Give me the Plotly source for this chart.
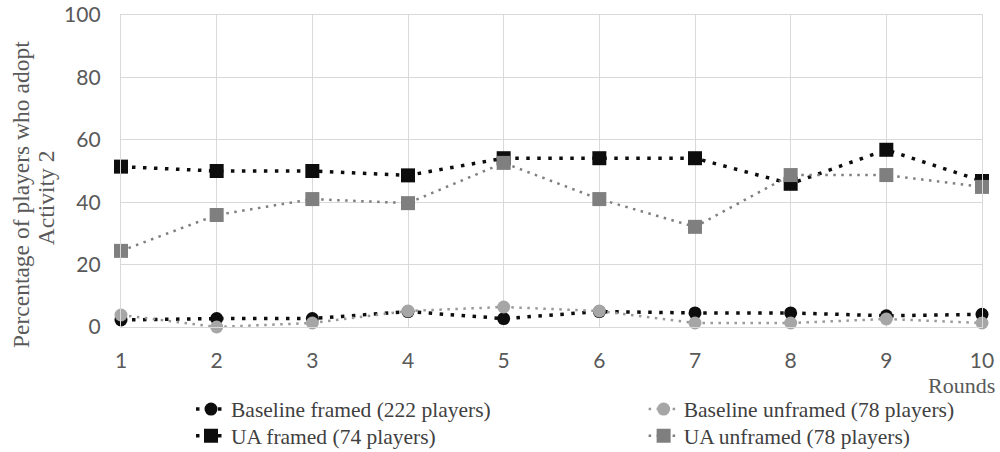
import plotly.graph_objects as go

rounds = [1, 2, 3, 4, 5, 6, 7, 8, 9, 10]
baseline_framed = [2.25, 2.7, 2.7, 4.95, 2.7, 4.95, 4.5, 4.5, 3.6, 4.05]
baseline_unframed = [3.85, 0.0, 1.28, 5.13, 6.41, 5.13, 1.28, 1.28, 2.56, 1.28]
ua_framed = [51.4, 50.0, 50.0, 48.6, 54.1, 54.1, 54.1, 45.9, 56.8, 46.8]
ua_unframed = [24.4, 35.9, 41.0, 39.7, 52.6, 41.0, 32.1, 48.7, 48.7, 44.9]

names = ["Baseline framed (222 players)", "Baseline unframed (78 players)",
         "UA framed (74 players)", "UA unframed (78 players)"]
y_ticks = [0, 20, 40, 60, 80, 100]

BLACK = "#0d0d0d"
DGRAY = "#7f7f7f"
LGRAY = "#a6a6a6"
SERIF = "Liberation Serif"

fig = go.Figure()
fig.add_trace(go.Scatter(x=rounds, y=baseline_framed, name=names[0], mode="lines+markers",
                         legend="legend",
                         line=dict(color=BLACK, width=3.5, dash="3.5px,7.5px"),
                         marker=dict(symbol="circle", size=13, color=BLACK), cliponaxis=False))
fig.add_trace(go.Scatter(x=rounds, y=baseline_unframed, name=names[1], mode="lines+markers",
                         legend="legend2",
                         line=dict(color="#999999", width=2.5, dash="2.5px,5.5px"),
                         marker=dict(symbol="circle", size=13, color=LGRAY), cliponaxis=False))
fig.add_trace(go.Scatter(x=rounds, y=ua_framed, name=names[2], mode="lines+markers",
                         legend="legend3",
                         line=dict(color=BLACK, width=3.5, dash="3.5px,7.5px"),
                         marker=dict(symbol="square", size=14, color=BLACK), cliponaxis=False))
fig.add_trace(go.Scatter(x=rounds, y=ua_unframed, name=names[3], mode="lines+markers",
                         legend="legend4",
                         line=dict(color=DGRAY, width=2.5, dash="2.5px,5.5px"),
                         marker=dict(symbol="square", size=14, color=DGRAY), cliponaxis=False))


def leg(x, y):
    return dict(orientation="v", x=x, y=y, xanchor="left", yanchor="middle",
                font=dict(family=SERIF, size=21.5, color="#404040"),
                bgcolor="rgba(0,0,0,0)", tracegroupgap=0)


fig.update_layout(
    width=1000, height=452,
    margin=dict(l=121, r=18, t=15, b=125, autoexpand=False),
    font=dict(family=SERIF, color="#404040"),
    plot_bgcolor="white", paper_bgcolor="white",
    showlegend=True,
    legend=leg(0.0813, -0.263),
    legend2=leg(0.607, -0.263),
    legend3=leg(0.0813, -0.349),
    legend4=leg(0.607, -0.349),
    annotations=[
        dict(text="Rounds", xref="paper", yref="paper", x=1, y=-0.189,
             xanchor="right", yanchor="middle", xshift=15, showarrow=False,
             font=dict(family=SERIF, size=22, color="#595959")),
        dict(text="Percentage of players who adopt", xref="paper", yref="paper", x=0, y=0.423,
             xanchor="center", yanchor="middle", xshift=-100, textangle=-90, showarrow=False,
             font=dict(family=SERIF, size=23.5, color="#595959")),
        dict(text="Activity 2", xref="paper", yref="paper", x=0, y=0.413,
             xanchor="center", yanchor="middle", xshift=-75, textangle=-90, showarrow=False,
             font=dict(family=SERIF, size=23.5, color="#595959")),
    ],
)
fig.update_xaxes(range=[1, 10], tickmode="array", tickvals=rounds, ticktext=[str(r) for r in rounds],
                 showgrid=True, gridcolor="#d9d9d9", gridwidth=1.3, zeroline=False,
                 showline=True, linecolor="#d9d9d9", linewidth=1.3, mirror=True,
                 tickfont=dict(family="Lato", size=21, color="#595959"), ticks="", ticklabelstandoff=15)
fig.update_yaxes(range=[0, 100], tickvals=y_ticks,
                 showgrid=True, gridcolor="#d9d9d9", gridwidth=1.3, zeroline=False,
                 showline=True, linecolor="#d9d9d9", linewidth=1.3, mirror=True,
                 tickfont=dict(family="Lato", size=21, color="#595959"), ticks="", ticklabelstandoff=15)

# remove the browser's default 8px body margin so the figure sits at the page origin
fig.write_html("out.html", config={"displayModeBar": False},
               post_script="document.body.style.margin='0px';")
